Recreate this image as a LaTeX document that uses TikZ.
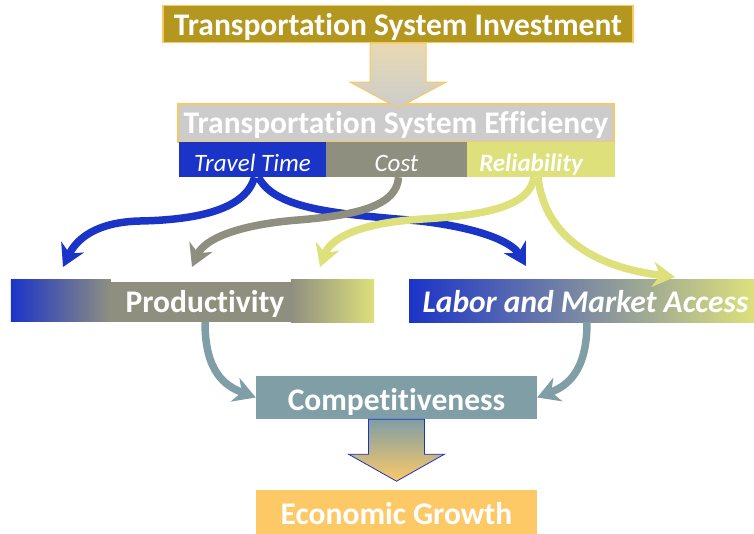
\documentclass[tikz,border=0pt]{standalone}
\usepackage{fontspec}
\setmainfont[Ligatures={NoCommon}]{Carlito}
\usetikzlibrary{arrows.meta,calc,backgrounds}
\definecolor{invGold}{HTML}{B4971F}
\definecolor{edgeOrange}{HTML}{FAC860}
\definecolor{effGray}{HTML}{CCCCCC}
\definecolor{beige}{HTML}{E8D9B2}
\definecolor{ttBlue}{HTML}{1B34C8}
\definecolor{costGray}{HTML}{8F8F80}
\definecolor{midGray}{HTML}{A8AAA6}
\definecolor{relYellow}{HTML}{DDE07B}
\definecolor{compTeal}{HTML}{7F9EA6}
\definecolor{growOrange}{HTML}{FCC966}

\begin{document}
\begin{tikzpicture}[x=1pt,y=-1pt,
  big/.style={font=\fontsize{31.5}{36}\selectfont\bfseries, text=white, inner sep=0pt, text height=23pt, text depth=0pt},
  sub/.style={font=\fontsize{25}{30}\selectfont\itshape, text=white, inner sep=0pt, minimum height=35, text height=24pt, text depth=0pt},
  flow/.style={line width=7.5pt, -{Stealth[length=22pt,width=25pt,inset=7pt]}}]
\useasboundingbox (0,0) rectangle (754,534);
% top: investment -> efficiency
\node[big, fill=invGold, draw=edgeOrange, line width=1.2pt, minimum width=470, minimum height=37] (inv) at (398,24) {Transportation System Investment};
\node[big, fill=effGray, draw=edgeOrange, line width=1.2pt, minimum width=436, minimum height=38, text height=21pt] (eff) at (396,123) {Transportation System Efficiency};
\shade[top color=beige, bottom color=effGray, draw=edgeOrange, line width=1pt]
  ($(inv.south)+(-28,0)$) -- ++(56,0) -- ++(0,39) -- ++(20,0) -- ++(-48,26) -- ++(-48,-26) -- ++(20,0) -- cycle;
% the three parts of efficiency
\node[sub, fill=ttBlue, minimum width=147] (tt) at (252.5,159.5) {Travel Time};
\node[sub, fill=costGray, minimum width=141] (cost) at (396.5,159.5) {Cost};
\node[sub, fill=relYellow, minimum width=148, font=\fontsize{25}{30}\selectfont\bfseries\itshape] (rel) at (541,159.5) {Reliability\hspace*{20pt}};
% outcome boxes
\node[big, minimum width=363, minimum height=42] (prod) at (192.5,301) {\hspace*{25pt}Productivity};
\begin{scope}[on background layer]
\shade[left color=ttBlue, right color=costGray] (prod.north west) rectangle ++(100,42);
\fill[costGray] ($(prod.north west)+(99,2)$) rectangle ++(182,40);
\shade[left color=costGray, right color=relYellow] ($(prod.north west)+(280,0)$) rectangle (prod.south east);
\end{scope}
\node[big, font=\fontsize{31.5}{36}\selectfont\bfseries\itshape, left color=ttBlue, middle color=midGray, right color=relYellow, minimum width=345, minimum height=42] (lab) at (581.5,301) {\hspace*{8pt}Labor and Market Access};
\node[big, fill=compTeal, minimum width=281, minimum height=43, text height=25pt] (comp) at (396.5,397.5) {Competitiveness};
\node[big, fill=growOrange, minimum width=281, minimum height=44, text height=25pt] (grow) at (396.5,512) {Economic Growth};
\shade[top color=compTeal, bottom color=growOrange, draw=ttBlue, line width=0.8pt]
  ($(comp.south)+(-28,0)$) -- ++(56,0) -- ++(0,35) -- ++(20,0) -- ++(-48,27) -- ++(-48,-27) -- ++(20,0) -- cycle;
% arrow ends above the outcome boxes
\coordinate (tipBL) at (63,267);
\coordinate (tipBR) at (526,266);
\coordinate (tipG) at (192,267);
\coordinate (tipYL) at (320,267);
\coordinate (tipYR) at (675,277);
% curved arrows
\draw[flow, ttBlue] ([xshift=2]tt.south) .. controls (245,212) and (190,220) .. (140,221) .. controls (95,222) and (76,240) .. (tipBL);
\draw[flow, ttBlue] ([xshift=6]tt.south) .. controls (275,210) and (340,214) .. (420,221) .. controls (480,228) and (512,242) .. (tipBR);
\draw[flow, costGray] ([xshift=2]cost.south) .. controls (397,205) and (360,215) .. (298,220) .. controls (235,225) and (204,240) .. (tipG);
\draw[flow, relYellow] ([xshift=-7]rel.south) .. controls (530,205) and (490,215) .. (423,219) .. controls (355,223) and (330,240) .. (tipYL);
\draw[flow, relYellow] ([xshift=-3]rel.south) .. controls (545,240) and (600,268) .. (tipYR);
\draw[flow, compTeal] ([xshift=12.5]prod.south) .. controls (205,372) and (225,386) .. (comp.west);
\draw[flow, compTeal] ([xshift=5.5]lab.south) .. controls (587,372) and (567,386) .. (comp.east);
\end{tikzpicture}
\end{document}
